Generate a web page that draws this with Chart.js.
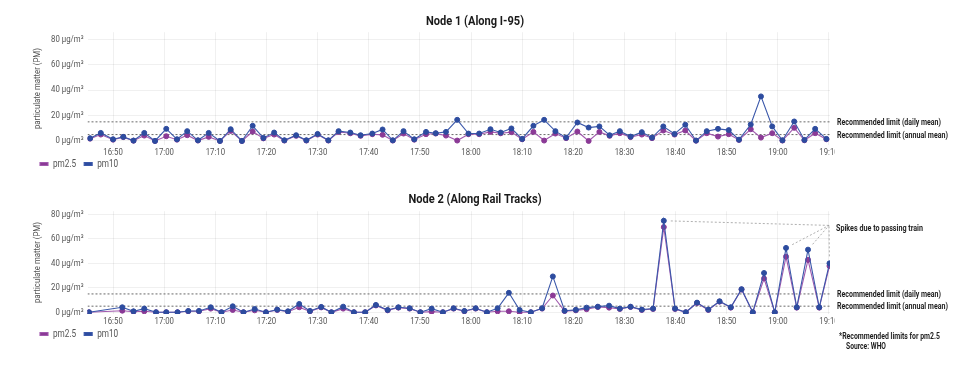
<!DOCTYPE html>
<html>
<head>
<meta charset="utf-8">
<script src="https://cdn.jsdelivr.net/npm/chart.js@4/dist/chart.umd.min.js"></script>
<style>
  html, body { margin: 0; padding: 0; background: #fff; }
  #wrap { position: relative; width: 960px; height: 366px; overflow: hidden; }
  canvas { position: absolute; left: 0; }
  #node1 { top: 0; }
  #node2 { top: 180px; }
</style>
</head>
<body>
<div id="wrap">
  <canvas id="node1" width="960" height="180"></canvas>
  <canvas id="node2" width="960" height="186"></canvas>
</div>
<script>
const FONT = "Roboto, sans-serif";
// the original uses a condensed face; Roboto is narrowed to match
const TEXT_SQUEEZE = 0.82;
const PM25_COLOR = "#8b3a96";
const PM25_LINE = "#a15aae";
const PM10_COLOR = "#2d4c9f";
const PM10_LINE = "#3b58aa";
const GRID = "rgba(0, 0, 0, 0.06)";

// readings, minutes past 16:00
const node1Minutes = [45.5, 47.6, 50.0, 52.0, 54.0, 56.1, 58.2, 60.4, 62.5, 64.5,
  66.6, 68.7, 70.9, 73.0, 75.2, 77.3, 79.4, 81.5, 83.5, 85.8,
  87.8, 90.0, 92.1, 94.1, 96.4, 98.4, 100.7, 102.7, 104.7, 106.8,
  108.9, 111.2, 113.1, 115.1, 117.3, 119.5, 121.6, 123.8, 125.8, 127.9,
  130.0, 132.2, 134.3, 136.5, 138.6, 140.8, 143.0, 145.1, 147.1, 149.1,
  151.2, 153.4, 155.4, 157.6, 159.8, 161.9, 164.0, 166.1, 168.3, 170.4,
  172.4, 174.7, 176.7, 178.9, 180.9, 183.2, 185.2, 187.3, 189.5];
const node1Pm25 = [1.8, 5.0, 1.0, 3.0, 0.2, 4.2, 0, 3.7, 1.0, 4.5,
  0.3, 3.2, 0, 7.9, 0, 7.4, 2.0, 5.0, 0.3, 4.0,
  0.3, 5.0, 0.3, 7.0, 6.0, 4.0, 5.3, 4.8, 0.3, 5.8,
  1.0, 5.3, 5.8, 4.2, 0.3, 5.3, 5.3, 7.1, 6.0, 6.9,
  1.3, 7.1, 0.3, 5.8, 2.2, 7.4, 0, 7.1, 4.0, 6.1,
  3.0, 5.0, 2.2, 8.2, 5.0, 8.2, 0.2, 6.1, 3.4, 5.3,
  0.8, 9.2, 2.6, 6.1, 0.3, 10.3, 0.5, 6.1, 1.3];
const node1Pm10 = [2.1, 6.3, 1.3, 3.2, 0.3, 6.3, 0, 9.5, 1.3, 7.7,
  0.5, 6.3, 0, 9.2, 0, 11.9, 2.4, 6.6, 0.5, 4.5,
  0.5, 5.5, 0.5, 7.7, 6.6, 4.5, 5.8, 9.0, 0.5, 7.7,
  1.3, 7.1, 6.1, 7.1, 16.6, 5.8, 5.8, 9.2, 6.6, 9.8,
  1.6, 11.9, 16.6, 7.7, 2.6, 14.5, 10.5, 11.4, 4.5, 7.7,
  3.4, 6.9, 2.6, 11.4, 5.5, 12.7, 0.3, 7.7, 9.5, 8.5,
  1.0, 12.9, 35.0, 11.4, 0.5, 15.3, 0.8, 9.5, 1.6];

const node2Minutes = [45.3, 51.8, 54.0, 56.1, 58.4, 60.4, 62.6, 64.7, 66.8, 69.1,
  71.2, 73.4, 75.5, 77.7, 79.9, 82.1, 84.2, 86.4, 88.5, 90.7,
  92.7, 95.0, 97.1, 99.3, 101.4, 103.7, 105.8, 108.0, 110.1, 112.3,
  114.5, 116.6, 118.7, 120.9, 123.1, 125.2, 127.4, 129.5, 131.7, 133.9,
  136.0, 138.3, 140.5, 142.6, 144.8, 147.0, 149.1, 151.2, 153.4, 155.6,
  157.7, 159.9, 162.0, 164.2, 166.4, 168.6, 170.8, 172.9, 175.1, 177.3,
  179.4, 181.6, 183.7, 185.9, 188.1, 190.1];
const node2Pm25 = [0, 1.3, 0.5, 0.8, 0, 0, 0, 0.8, 0.8, 3.0,
  0, 1.9, 0, 1.6, 0, 1.9, 0.5, 4.1, 0.8, 4.0,
  0, 3.0, 0, 0, 5.6, 1.6, 3.8, 3.0, 0, 0.5,
  0, 3.0, 0.8, 3.0, 0, 0.8, 0.8, 0, 0, 3.0,
  13.7, 1.0, 1.6, 2.5, 4.3, 3.8, 2.7, 4.3, 1.9, 2.7,
  69.6, 2.7, 0, 7.6, 1.9, 8.7, 3.8, 18.6, 0, 27.6,
  0, 45.5, 3.8, 42.8, 3.8, 37.8];
const node2Pm10 = [0, 4.1, 0.8, 3.0, 0, 0, 0, 1.1, 1.1, 4.1,
  0, 4.9, 0, 2.7, 0, 2.2, 0.8, 6.8, 1.1, 4.4,
  0, 4.6, 0, 0, 6.0, 1.9, 4.1, 3.3, 0, 3.0,
  0, 3.3, 1.1, 3.3, 0, 3.3, 15.9, 1.9, 0, 3.3,
  29.3, 1.3, 2.0, 3.8, 4.6, 5.4, 3.0, 4.6, 2.2, 3.0,
  74.8, 3.0, 0, 7.9, 2.2, 9.0, 4.1, 18.9, 0, 32.1,
  0, 52.6, 4.1, 51.2, 4.1, 40.0];
// readings picked out as train passings (indices into node2)
const node2TrainSpikes = [50, 61, 63, 65];

// WHO pm2.5 guideline values
const whoDailyLimit = 15;
const whoAnnualLimit = 5;

const yTickValues = [0, 20, 40, 60, 80];
// 16:50 ... 19:10, as minutes past 16:00
const timeTickValues = [50, 60, 70, 80, 90, 100, 110, 120, 130, 140, 150, 160, 170, 180, 190];
const xStart = 45;
const xEnd = 190.2;

function toPoints(xs, ys) {
  return xs.map((x, i) => ({ x, y: ys[i] }));
}

function clockLabel(value) {
  const h = 16 + Math.floor(value / 60);
  const m = value % 60;
  return `${h}:${String(m).padStart(2, "0")}`;
}

// draw and measure all text a bit narrower than the face really is
function condenseText(ctx, k) {
  const fill = ctx.fillText.bind(ctx);
  const measure = ctx.measureText.bind(ctx);
  ctx.fillText = function (text, x, y, maxWidth) {
    ctx.save();
    ctx.translate(x, y);
    ctx.scale(k, 1);
    if (maxWidth === undefined) fill(text, 0, 0);
    else fill(text, 0, 0, maxWidth / k);
    ctx.restore();
  };
  ctx.measureText = function (text) {
    const m = measure(text);
    return {
      width: m.width * k,
      actualBoundingBoxAscent: m.actualBoundingBoxAscent,
      actualBoundingBoxDescent: m.actualBoundingBoxDescent,
      actualBoundingBoxLeft: m.actualBoundingBoxLeft * k,
      actualBoundingBoxRight: m.actualBoundingBoxRight * k,
    };
  };
  return ctx;
}

function limitLine(label, value) {
  return {
    label,
    data: [{ x: xStart, y: value }, { x: xEnd, y: value }],
    borderColor: "#6a6a6a",
    borderWidth: 1,
    borderDash: [2, 2],
    pointRadius: 0,
    order: 2,
  };
}

function buildDatasets(minutes, pm25, pm10) {
  return [
    {
      label: "pm2.5",
      data: toPoints(minutes, pm25),
      borderColor: PM25_LINE,
      backgroundColor: PM25_COLOR,
      pointBackgroundColor: PM25_COLOR,
      pointBorderColor: PM25_COLOR,
      pointRadius: 2.5,
      pointBorderWidth: 1,
      borderWidth: 1.1,
      tension: 0,
      order: 1,
    },
    {
      label: "pm10",
      data: toPoints(minutes, pm10),
      borderColor: PM10_LINE,
      backgroundColor: PM10_COLOR,
      pointBackgroundColor: PM10_COLOR,
      pointBorderColor: PM10_COLOR,
      pointRadius: 2.5,
      pointBorderWidth: 1,
      borderWidth: 1.1,
      tension: 0,
      order: 0,
    },
    limitLine("daily", whoDailyLimit),
    limitLine("annual", whoAnnualLimit),
  ];
}

const notesPlugin = {
  id: "notes",
  afterDraw(chart, args, opts) {
    const { ctx, chartArea, scales } = chart;
    const y = scales.y;
    const textX = chartArea.right + 7;
    ctx.save();
    // the time axis is cut off at the plot edge in the original
    ctx.fillStyle = "#fff";
    ctx.fillRect(chartArea.right + 5, chartArea.bottom + 1, 140, 14);

    ctx.fillStyle = "#1e1e1e";
    ctx.font = `bold 9px ${FONT}`;
    ctx.textAlign = "left";
    ctx.textBaseline = "middle";
    ctx.fillText("Recommended limit (daily mean)", textX, y.getPixelForValue(whoDailyLimit) + 1, 104);
    ctx.fillText("Recommended limit (annual mean)", textX, y.getPixelForValue(whoAnnualLimit) + 1, 111);

    if (opts.spikes) {
      const meta = chart.getDatasetMeta(1);
      const ax = chartArea.right - 1;
      const ay = y.getPixelForValue(opts.anchor);
      ctx.strokeStyle = "#9a9a9a";
      ctx.lineWidth = 0.8;
      ctx.setLineDash([2, 2]);
      for (const i of opts.spikes) {
        const p = meta.data[i];
        const dx = ax - p.x;
        const dy = ay - p.y;
        const len = Math.hypot(dx, dy) || 1;
        ctx.beginPath();
        ctx.moveTo(p.x + (dx / len) * 7, p.y + (dy / len) * 7);
        ctx.lineTo(ax, ay);
        ctx.stroke();
      }
      ctx.setLineDash([]);
      ctx.fillText("Spikes due to passing train", chartArea.right + 6, ay + 3, 87);
    }

    if (opts.footnote) {
      ctx.fillText("*Recommended limits for pm2.5", chartArea.right + 9, chartArea.bottom + 23, 101);
      ctx.fillText("Source: WHO", chartArea.right + 16, chartArea.bottom + 33, 40);
    }
    ctx.restore();
  },
};

function createChart(canvas, opts) {
  const ctx = condenseText(canvas.getContext("2d"), TEXT_SQUEEZE);
  return new Chart(ctx, {
    type: "line",
    data: { datasets: buildDatasets(opts.minutes, opts.pm25, opts.pm10) },
    plugins: [notesPlugin],
    options: {
      responsive: false,
      animation: false,
      layout: {
        autoPadding: false,
        padding: { left: 32, right: 42, top: 0, bottom: opts.bottomPad },
      },
      plugins: {
        title: {
          display: true,
          text: opts.title,
          color: "#1a1a1a",
          font: { family: FONT, size: 13.5, weight: "bold" },
          padding: opts.titlePad,
        },
        legend: {
          position: "bottom",
          align: "start",
          labels: {
            boxWidth: 8,
            boxHeight: 3,
            padding: 8,
            color: "#555",
            font: { family: FONT, size: 10 },
            filter: (item) => item.datasetIndex < 2,
            sort: (a, b) => a.datasetIndex - b.datasetIndex,
          },
        },
        tooltip: { enabled: false },
        notes: opts.notes,
      },
      scales: {
        x: {
          type: "linear",
          min: xStart,
          max: xEnd,
          afterBuildTicks: (s) => {
            s.ticks = timeTickValues.map((v) => ({ value: v }));
          },
          afterFit: (s) => {
            s.height = opts.xAxisHeight;
            // the axis box is kept thin so the legend sits close; let the labels spill out of it
            s._computeLabelArea = () => null;
          },
          ticks: {
            autoSkip: false,
            maxRotation: 0,
            padding: 2,
            color: "#555",
            font: { family: FONT, size: 9.5 },
            callback: (v) => clockLabel(v),
          },
          grid: { color: GRID, drawTicks: false },
          border: { display: false },
        },
        y: {
          position: "left",
          min: opts.yMin,
          max: opts.yMax,
          afterBuildTicks: (s) => {
            s.ticks = yTickValues.map((v) => ({ value: v }));
          },
          afterFit: (s) => {
            s.width = 55.5;
          },
          ticks: {
            padding: 4,
            color: "#555",
            font: { family: FONT, size: 9.5 },
            callback: (v) => `${v} µg/m³`,
          },
          title: {
            display: true,
            text: "particulate matter (PM)",
            color: "#555",
            font: { family: FONT, size: 9.5 },
            padding: { top: 0, bottom: 0 },
          },
          grid: { color: GRID, drawTicks: false },
          border: { display: false },
        },
        // room for the notes on the right
        notesAxis: {
          position: "right",
          display: true,
          afterFit: (s) => {
            s.width = 88;
          },
          ticks: { display: false },
          grid: { display: false, drawTicks: false },
          border: { display: false },
        },
      },
    },
  });
}

createChart(document.getElementById("node1"), {
  title: "Node 1 (Along I-95)",
  minutes: node1Minutes,
  pm25: node1Pm25,
  pm10: node1Pm10,
  yMin: -3.2,
  yMax: 85.5,
  titlePad: { top: 14, bottom: 2 },
  bottomPad: 1,
  xAxisHeight: 6,
  notes: {},
});

createChart(document.getElementById("node2"), {
  title: "Node 2 (Along Rail Tracks)",
  minutes: node2Minutes,
  pm25: node2Pm25,
  pm10: node2Pm10,
  yMin: -1.4,
  yMax: 82.6,
  titlePad: { top: 12, bottom: 3 },
  bottomPad: 17,
  xAxisHeight: 7,
  notes: { spikes: node2TrainSpikes, anchor: 71, footnote: true },
});
</script>
</body>
</html>
